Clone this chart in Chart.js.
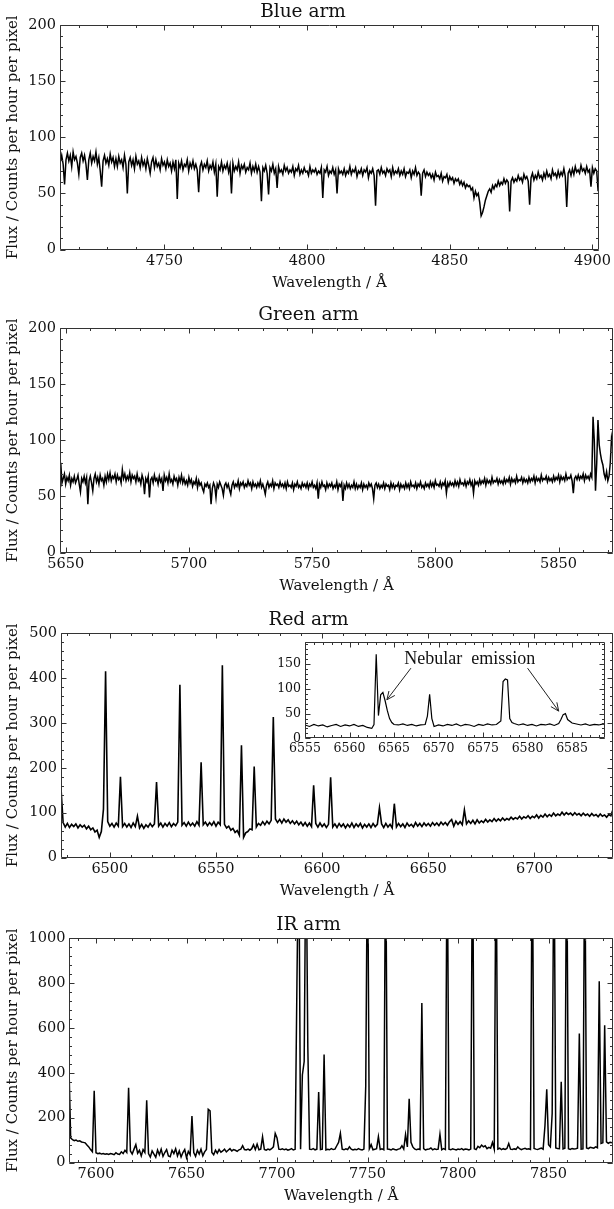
<!DOCTYPE html>
<html lang="en">
<head>
<meta charset="UTF-8">
<title>Spectra by arm</title>
<script src="https://cdn.jsdelivr.net/npm/chart.js"></script>
<style>
  body { margin: 0; background: #fff; }
  #wrap { position: relative; width: 614px; height: 1209px; }
  canvas { position: absolute; left: 0; }
</style>
</head>
<body>
<div id="wrap">
  <canvas id="blue" width="614" height="291" style="top:1px"></canvas>
  <canvas id="green" width="614" height="291" style="top:304px"></canvas>
  <canvas id="red" width="614" height="291" style="top:609px"></canvas>
  <canvas id="inset" width="354" height="130" style="top:630px;left:260px"></canvas>
  <canvas id="ir" width="614" height="291" style="top:914px"></canvas>
</div>
<script>
// flux; blue and green every 0.5 A, red and IR every 1 A
const blueStart = 4713, blueStep = 0.5;
const blueFlux = [
  88, 78, 84, 76, 58, 80, 86, 79, 84, 74, 87, 80, 83, 77, 67, 82, 86, 79, 84, 76,
  62, 80, 86, 77, 83, 79, 87, 76, 82, 70, 56, 79, 84, 77, 81, 75, 85, 78, 82, 74,
  81, 74, 83, 77, 80, 73, 84, 76, 50, 78, 82, 75, 80, 72, 83, 76, 79, 73, 82, 75,
  79, 72, 81, 75, 68, 78, 82, 73, 80, 74, 77, 71, 81, 75, 78, 72, 80, 74, 77, 70,
  78, 72, 80, 45, 77, 73, 79, 71, 76, 74, 80, 70, 77, 73, 79, 72, 76, 71, 51, 74,
  78, 71, 76, 73, 79, 70, 75, 72, 78, 69, 76, 47, 74, 71, 78, 70, 75, 72, 77, 69,
  75, 50, 77, 70, 74, 71, 78, 68, 75, 72, 76, 69, 73, 71, 77, 68, 74, 70, 76, 69,
  74, 69, 43, 73, 70, 75, 68, 49, 73, 70, 76, 68, 72, 55, 74, 69, 71, 67, 75, 70,
  73, 68, 71, 69, 74, 66, 72, 70, 75, 67, 71, 68, 73, 69, 70, 66, 74, 68, 71, 69,
  72, 67, 70, 68, 73, 46, 71, 69, 74, 66, 70, 68, 73, 67, 71, 50, 72, 68, 70, 67,
  72, 66, 70, 68, 74, 67, 71, 69, 73, 65, 70, 68, 72, 66, 71, 69, 73, 64, 70, 68,
  72, 66, 39, 70, 71, 67, 73, 68, 70, 66, 72, 69, 71, 65, 73, 67, 70, 68, 72, 66,
  70, 67, 72, 65, 69, 68, 71, 64, 70, 67, 73, 66, 69, 67, 48, 68, 71, 65, 69, 66,
  68, 64, 67, 62, 69, 65, 66, 63, 68, 61, 65, 64, 67, 60, 65, 62, 64, 59, 63, 61,
  63, 58, 61, 57, 60, 55, 58, 56, 57, 53, 55, 46, 52, 48, 50, 42, 30, 33, 38, 44,
  48, 52, 54, 51, 57, 54, 58, 56, 61, 57, 60, 58, 63, 59, 62, 60, 34, 61, 64, 60,
  63, 61, 66, 62, 64, 60, 67, 63, 65, 61, 40, 64, 68, 62, 66, 63, 69, 64, 66, 62,
  68, 64, 70, 65, 67, 63, 71, 66, 68, 64, 70, 65, 69, 66, 72, 65, 38, 68, 71, 66,
  72, 67, 74, 69, 71, 68, 75, 70, 72, 68, 74, 69, 71, 56, 73, 68, 72, 70, 52, 69
];

const greenStart = 5648, greenStep = 0.5;
const greenFlux = [
  80, 62, 66, 70, 61, 67, 64, 69, 60, 66, 63, 68, 62, 65, 69, 61, 54, 66, 63, 68,
  62, 67, 43, 64, 68, 62, 55, 66, 70, 63, 67, 61, 69, 64, 66, 60, 68, 63, 70, 65,
  71, 64, 68, 66, 70, 63, 69, 65, 67, 62, 74, 66, 70, 64, 68, 65, 71, 63, 69, 66,
  68, 63, 70, 64, 66, 61, 69, 65, 52, 66, 63, 68, 49, 65, 67, 62, 69, 64, 66, 61,
  68, 63, 66, 55, 69, 64, 67, 62, 70, 63, 65, 61, 68, 64, 66, 60, 67, 63, 69, 62,
  66, 61, 64, 60, 67, 62, 65, 59, 63, 61, 66, 58, 64, 60, 62, 57, 54, 61, 59, 62,
  58, 60, 43, 57, 62, 59, 49, 61, 58, 63, 60, 57, 51, 60, 62, 58, 61, 56, 52, 60,
  63, 58, 61, 59, 64, 57, 62, 60, 63, 58, 61, 59, 64, 60, 62, 57, 63, 59, 61, 58,
  62, 59, 64, 58, 61, 57, 52, 60, 63, 58, 61, 59, 64, 57, 62, 60, 61, 58, 63, 59,
  61, 58, 62, 57, 63, 59, 60, 58, 62, 56, 61, 59, 63, 58, 60, 57, 62, 59, 61, 58,
  62, 57, 61, 59, 63, 58, 60, 57, 62, 48, 61, 58, 63, 59, 60, 56, 62, 58, 61, 59,
  62, 57, 60, 58, 63, 56, 61, 59, 62, 46, 60, 57, 62, 58, 61, 57, 60, 58, 63, 57,
  61, 57, 60, 58, 62, 56, 61, 58, 60, 57, 62, 59, 61, 57, 48, 60, 62, 58, 61, 57,
  60, 58, 62, 57, 61, 59, 60, 56, 62, 58, 61, 57, 60, 59, 62, 56, 61, 58, 60, 57,
  62, 58, 61, 57, 63, 59, 60, 58, 62, 57, 61, 59, 63, 58, 60, 57, 62, 59, 61, 58,
  63, 59, 62, 58, 64, 60, 61, 59, 63, 58, 62, 60, 64, 53, 62, 59, 63, 60, 62, 59,
  64, 60, 63, 59, 65, 61, 62, 60, 64, 59, 63, 61, 65, 60, 63, 53, 64, 61, 63, 60,
  65, 61, 64, 62, 66, 60, 65, 62, 64, 61, 67, 62, 64, 63, 66, 61, 65, 62, 64, 61,
  66, 62, 65, 63, 67, 61, 66, 63, 65, 62, 68, 63, 65, 64, 67, 62, 66, 63, 65, 62,
  67, 63, 66, 64, 68, 62, 67, 64, 66, 63, 69, 64, 66, 65, 68, 63, 67, 64, 66, 63,
  68, 64, 67, 65, 69, 63, 68, 65, 67, 64, 70, 65, 67, 66, 69, 64, 53, 66, 68, 65,
  69, 65, 68, 66, 70, 64, 69, 66, 68, 65, 70, 67, 121, 100, 55, 80, 118, 96, 88, 82,
  78, 70, 66, 72, 64, 68, 80, 102, 95, 93
];

const redStart = 6477, redStep = 1;
const redFlux = [
  155, 78, 68, 76, 67, 74, 69, 75, 66, 73,
  68, 72, 64, 70, 62, 66, 57, 61, 45, 58,
  108, 415, 80, 70, 76, 68, 77, 70, 180, 69,
  76, 68, 75, 67, 77, 69, 92, 66, 74, 65,
  73, 68, 76, 69, 75, 168, 70, 77, 68, 76,
  70, 78, 69, 76, 71, 79, 385, 72, 78, 70,
  79, 71, 77, 70, 80, 72, 212, 73, 79, 71,
  78, 72, 80, 70, 79, 73, 428, 74, 66, 70,
  61, 65, 56, 60, 50, 250, 45, 55, 58, 64,
  62, 203, 68, 76, 72, 80, 73, 81, 75, 83,
  313, 86, 78, 85, 77, 86, 79, 84, 76, 82,
  75, 81, 73, 79, 71, 78, 70, 77, 69, 161,
  76, 68, 77, 69, 75, 67, 74, 179, 68, 75,
  67, 76, 69, 75, 66, 74, 68, 77, 67, 75,
  69, 76, 66, 74, 68, 75, 67, 76, 69, 74,
  111, 75, 67, 76, 68, 74, 66, 120, 68, 76,
  69, 75, 67, 77, 70, 74, 68, 78, 70, 76,
  69, 77, 71, 76, 70, 78, 72, 77, 71, 79,
  73, 78, 72, 80, 85, 70, 81, 74, 80, 73,
  106, 75, 82, 76, 83, 75, 84, 77, 82, 78,
  85, 79, 84, 80, 87, 81, 86, 82, 88, 83,
  87, 84, 90, 85, 89, 86, 92, 86, 91, 88,
  93, 87, 92, 89, 95, 88, 94, 90, 97, 91,
  96, 92, 99, 93, 97, 94, 101, 95, 100, 96,
  99, 94, 100, 95, 98, 93, 99, 94, 97, 92,
  98, 93, 96, 91, 97, 92, 95, 90, 96, 93,
  107
];

const irStart = 7585, irStep = 1;
const irFlux = [
  450, 110, 102, 98, 100, 95, 97, 92, 90, 88,
  78, 70, 58, 48, 320, 44, 40, 42, 38, 40,
  37, 39, 36, 40, 38, 35, 44, 38, 36, 48,
  40, 55, 45, 333, 52, 38, 60, 80, 42, 55,
  30, 58, 45, 277, 40, 25, 52, 38, 24, 56,
  35, 60, 28, 45, 58, 30, 26, 55, 40, 62,
  30, 52, 25, 45, 58, 22, 50, 35, 207, 45,
  28, 55, 38, 60, 30, 48, 58, 237, 230, 45,
  35, 55, 42, 58, 46, 52, 60, 48, 55, 62,
  52, 58, 55, 50, 57, 60, 75, 58, 56, 60,
  55, 62, 80, 58, 82, 57, 60, 115, 58, 55,
  60, 57, 62, 70, 130, 110, 60, 58, 61, 57,
  60, 55, 58, 62, 56, 59, 800, 1500, 60, 390,
  450, 1500, 518, 60, 58, 62, 57, 60, 314, 58,
  60, 481, 56, 59, 57, 62, 58, 60, 75, 90,
  130, 60, 57, 61, 58, 70, 60, 56, 59, 57,
  62, 58, 56, 60, 340, 1500, 62, 80, 57, 59,
  62, 115, 58, 61, 57, 1500, 60, 59, 56, 61,
  58, 56, 60, 62, 75, 60, 125, 70, 284, 90,
  70, 61, 57, 60, 58, 711, 62, 56, 59, 60,
  65, 57, 61, 58, 60, 126, 57, 62, 58, 1500,
  60, 57, 61, 59, 56, 60, 58, 62, 57, 60,
  59, 56, 60, 1500, 62, 58, 72, 66, 78, 70,
  75, 62, 68, 64, 90, 60, 1500, 60, 64, 58,
  62, 59, 63, 85, 60, 58, 61, 59, 70, 62,
  58, 61, 64, 60, 62, 59, 1500, 63, 60, 58,
  62, 65, 60, 163, 326, 80, 70, 219, 1500, 65,
  63, 62, 360, 61, 64, 1500, 62, 59, 63, 61,
  62, 64, 575, 60, 61, 1500, 65, 62, 68, 66,
  64, 70, 66, 807, 85, 88, 612, 92, 86, 90,
  88
];

// zoom on H-alpha (inset of the red arm)
const insetWave = [
  6555, 6555.5, 6556, 6556.5, 6557, 6557.5, 6558, 6558.5, 6559, 6559.5,
  6560, 6560.5, 6561, 6561.5, 6562, 6562.5, 6562.75, 6563, 6563.25, 6563.5,
  6563.75, 6564, 6564.25, 6564.5, 6564.75, 6565, 6565.5, 6566, 6566.5, 6567,
  6567.5, 6568, 6568.5, 6568.75, 6569, 6569.25, 6569.5, 6570, 6570.5, 6571,
  6571.5, 6572, 6572.5, 6573, 6573.5, 6574, 6574.5, 6575, 6575.5, 6576,
  6576.5, 6577, 6577.25, 6577.5, 6577.75, 6578, 6578.25, 6578.5, 6579, 6579.5,
  6580, 6580.5, 6581, 6581.5, 6582, 6582.5, 6583, 6583.5, 6583.75, 6584,
  6584.25, 6584.5, 6585, 6585.5, 6586, 6586.5, 6587, 6587.5, 6588, 6588.5, 6589
];
const insetFlux = [
  27, 24, 28, 25, 27, 23, 26, 28, 24, 27,
  25, 28, 24, 26, 22, 20, 28, 170, 46, 88,
  93, 76, 56, 40, 32, 28, 27, 29, 26, 28,
  25, 27, 28, 45, 89, 40, 24, 27, 25, 28,
  26, 29, 25, 28, 27, 24, 28, 26, 29, 27,
  28, 35, 115, 120, 118, 40, 32, 30, 27, 29,
  26, 28, 25, 28, 27, 29, 26, 30, 38, 48,
  50, 38, 31, 29, 27, 29, 26, 28, 27, 29, 28
];

const blueTicksX = [4750, 4800, 4850, 4900];
const greenTicksX = [5650, 5700, 5750, 5800, 5850];
const redTicksX = [6500, 6550, 6600, 6650, 6700];
const irTicksX = [7600, 7650, 7700, 7750, 7800, 7850];
const insetTicksX = [6555, 6560, 6565, 6570, 6575, 6580, 6585];
const flux200Ticks = [0, 50, 100, 150, 200];
const redTicksY = [0, 100, 200, 300, 400, 500];
const irTicksY = [0, 200, 400, 600, 800, 1000];
const insetTicksY = [0, 50, 100, 150];

const insetNote = {
  text: 'Nebular  emission',
  at: [6573.5, 150],
  arrows: [[6566.9, 142, 6564.2, 78], [6580.0, 142, 6583.5, 55]]
};

const SERIF = "'DejaVu Serif', serif";
Chart.defaults.font.family = SERIF;
Chart.defaults.color = '#111';

// box round the plot with inward ticks on all four sides
const frameTicks = {
  id: 'frameTicks',
  beforeDatasetsDraw(chart, args, o) {
    if (!o.fill) return;
    const a = chart.chartArea;
    chart.ctx.save();
    chart.ctx.fillStyle = '#fff';
    chart.ctx.fillRect(a.left, a.top, a.right - a.left, a.bottom - a.top);
    chart.ctx.restore();
  },
  afterDatasetsDraw(chart, args, o) {
    const { ctx, chartArea: a, scales: { x, y } } = chart;
    const L = Math.round(a.left) + 0.5, R = Math.round(a.right) - 0.5;
    const T = Math.round(a.top) + 0.5, B = Math.round(a.bottom) - 0.5;
    const steps = (s, step) => {
      const out = [];
      for (let k = Math.ceil(s.min / step); k * step <= s.max; k++) out.push(k * step);
      return out;
    };
    ctx.save();
    ctx.strokeStyle = '#333';
    ctx.lineWidth = 1;
    ctx.beginPath();
    ctx.rect(L, T, R - L, B - T);
    const xMarks = (vals, len) => vals.forEach(v => {
      const p = Math.round(x.getPixelForValue(v)) + 0.5;
      ctx.moveTo(p, B); ctx.lineTo(p, B - len);
      ctx.moveTo(p, T); ctx.lineTo(p, T + len);
    });
    const yMarks = (vals, len) => vals.forEach(v => {
      const p = Math.round(y.getPixelForValue(v)) + 0.5;
      ctx.moveTo(L, p); ctx.lineTo(L + len, p);
      ctx.moveTo(R, p); ctx.lineTo(R - len, p);
    });
    xMarks(x.ticks.map(t => t.value), 5);
    yMarks(y.ticks.map(t => t.value), 5);
    xMarks(steps(x, o.xMinor), 2.5);
    yMarks(steps(y, o.yMinor), 2.5);
    ctx.stroke();
    ctx.restore();
  }
};

const noteArrows = {
  id: 'noteArrows',
  afterDraw(chart, args, o) {
    if (!o.note) return;
    const { ctx, scales: { x, y } } = chart;
    const n = o.note;
    ctx.save();
    ctx.fillStyle = '#111';
    ctx.strokeStyle = '#222';
    ctx.lineWidth = 1;
    ctx.font = "18px 'Liberation Serif', serif";
    ctx.textAlign = 'center';
    ctx.textBaseline = 'alphabetic';
    ctx.fillText(n.text, x.getPixelForValue(n.at[0]), y.getPixelForValue(n.at[1]));
    n.arrows.forEach(([x0, y0, x1, y1]) => {
      const ax = x.getPixelForValue(x0), ay = y.getPixelForValue(y0);
      const bx = x.getPixelForValue(x1), by = y.getPixelForValue(y1);
      const ang = Math.atan2(by - ay, bx - ax);
      ctx.beginPath();
      ctx.moveTo(ax, ay); ctx.lineTo(bx, by);
      ctx.moveTo(bx - 9 * Math.cos(ang - 0.42), by - 9 * Math.sin(ang - 0.42));
      ctx.lineTo(bx, by);
      ctx.lineTo(bx - 9 * Math.cos(ang + 0.42), by - 9 * Math.sin(ang + 0.42));
      ctx.stroke();
    });
    ctx.restore();
  }
};

function toPoints(start, step, flux) {
  return flux.map((f, i) => ({ x: start + i * step, y: f }));
}

function spectrum(id, c) {
  const tickFont = { family: SERIF, size: c.tickSize || 14.5 };
  const labelFont = { family: SERIF, size: 15 };
  return new Chart(document.getElementById(id), {
    type: 'line',
    data: {
      datasets: [{
        data: c.points,
        borderColor: '#000',
        borderWidth: c.lineWidth || 1.3,
        pointRadius: 0,
        tension: 0
      }]
    },
    options: {
      animation: false,
      responsive: false,
      events: [],
      layout: { padding: { left: c.padLeft, right: c.padRight, top: c.padTop || 0, bottom: 0 } },
      plugins: {
        legend: { display: false },
        tooltip: { enabled: false },
        title: {
          display: !!c.title,
          text: c.title,
          color: '#111',
          font: { family: SERIF, size: 18.5, weight: 'normal' },
          padding: { top: 0, bottom: 1.8 }
        },
        frameTicks: { xMinor: c.xMinor, yMinor: c.yMinor, fill: !!c.fill },
        noteArrows: { note: c.note }
      },
      scales: {
        x: {
          type: 'linear',
          min: c.xMin,
          max: c.xMax,
          grid: { display: false, drawTicks: false },
          border: { display: false },
          ticks: { font: tickFont, padding: 3, maxRotation: 0, autoSkip: false, callback: v => String(v) },
          afterBuildTicks: s => { s.ticks = c.xTicks.map(v => ({ value: v })); },
          afterFit: s => { s.height = c.xHeight; },
          title: { display: !!c.xLabel, text: c.xLabel, font: labelFont, color: '#111', padding: 0 }
        },
        y: {
          min: c.yMin,
          max: c.yMax,
          grid: { display: false, drawTicks: false },
          border: { display: false },
          ticks: { font: tickFont, padding: 4, callback: v => String(v) },
          afterBuildTicks: s => { s.ticks = c.yTicks.map(v => ({ value: v })); },
          afterFit: s => { s.width = c.yWidth; },
          title: { display: !!c.yLabel, text: c.yLabel, font: labelFont, color: '#111', padding: 0 }
        }
      }
    },
    plugins: [frameTicks, noteArrows]
  });
}

const xLabel = 'Wavelength / \u00c5';
const yLabel = 'Flux / Counts per hour per pixel';

spectrum('blue', {
  title: 'Blue arm', xLabel, yLabel, points: toPoints(blueStart, blueStep, blueFlux),
  xMin: 4713.4, xMax: 4902.3, yMin: 0, yMax: 200,
  xTicks: blueTicksX, yTicks: flux200Ticks, xMinor: 10, yMinor: 10,
  padLeft: 4, padRight: 12, yWidth: 56, xHeight: 42.4, lineWidth: 1.5
});
spectrum('green', {
  title: 'Green arm', xLabel, yLabel, points: toPoints(greenStart, greenStep, greenFlux),
  xMin: 5647.7, xMax: 5872.1, yMin: 0, yMax: 200,
  xTicks: greenTicksX, yTicks: flux200Ticks, xMinor: 10, yMinor: 10,
  padLeft: 4, padRight: 1, yWidth: 56, xHeight: 42.4, lineWidth: 1.5
});
spectrum('red', {
  title: 'Red arm', xLabel, yLabel, points: toPoints(redStart, redStep, redFlux),
  xMin: 6477, xMax: 6737, yMin: 0, yMax: 500,
  xTicks: redTicksX, yTicks: redTicksY, xMinor: 10, yMinor: 20,
  padLeft: 4, padRight: 1, yWidth: 57, xHeight: 42.4, lineWidth: 1.6
});
spectrum('ir', {
  title: 'IR arm', xLabel, yLabel, points: toPoints(irStart, irStep, irFlux),
  xMin: 7585.3, xMax: 7885.6, yMin: 0, yMax: 1000,
  xTicks: irTicksX, yTicks: irTicksY, xMinor: 10, yMinor: 40,
  padLeft: 4, padRight: 1, yWidth: 65.4, xHeight: 42.4, lineWidth: 1.5
});
spectrum('inset', {
  points: insetWave.map((w, i) => ({ x: w, y: insetFlux[i] })),
  xMin: 6555, xMax: 6588.7, yMin: 0, yMax: 196,
  xTicks: insetTicksX, yTicks: insetTicksY, xMinor: 1, yMinor: 10,
  padLeft: 0, padRight: 9, padTop: 10, yWidth: 45, xHeight: 21.7,
  tickSize: 12.5, fill: true, note: insetNote, lineWidth: 1.2
});
</script>
</body>
</html>
